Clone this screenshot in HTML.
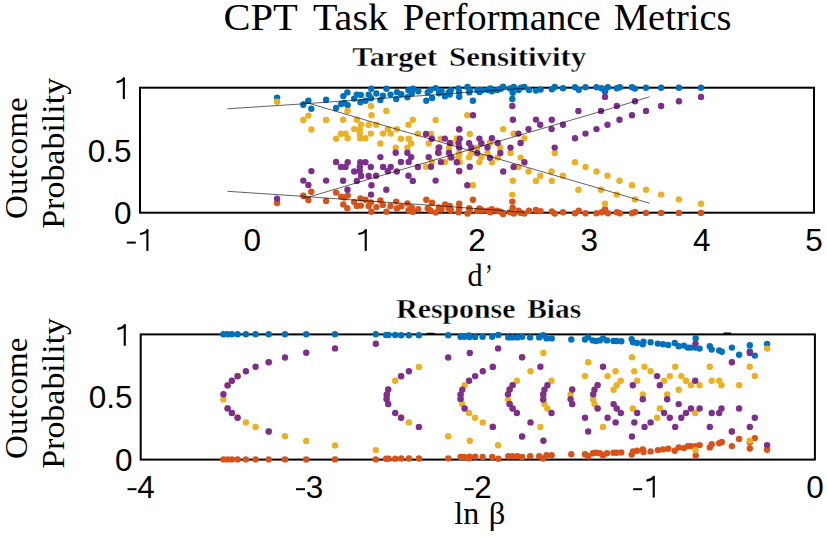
<!DOCTYPE html>
<html><head><meta charset="utf-8"><style>
html,body{margin:0;padding:0;background:#fff;width:827px;height:537px;overflow:hidden}
svg{display:block}
</style></head><body>
<svg width="827" height="537" viewBox="0 0 827 537">
<rect width="827" height="537" fill="#fff"/>
<rect x="140.0" y="87.7" width="674.0" height="125.0" fill="none" stroke="#000" stroke-width="2"/>
<rect x="140.7" y="334.4" width="674.2" height="125.2" fill="none" stroke="#000" stroke-width="2"/>
<g font-family='"Liberation Sans", sans-serif' font-size="31.5" fill="#000">
<rect x="126.80" y="241.60" width="9" height="2"/>
<rect x="146.35" y="229.20" width="2.1" height="21.7"/><path d="M148.00,230.10 Q144.80,233.60 140.10,234.00" fill="none" stroke="#000" stroke-width="2.1"/>
<text x="252.33" y="250.9" text-anchor="middle">0</text>
<rect x="364.67" y="229.20" width="2.1" height="21.7"/><path d="M366.32,230.10 Q363.12,233.60 358.42,234.00" fill="none" stroke="#000" stroke-width="2.1"/>
<text x="477.00" y="250.9" text-anchor="middle">2</text>
<text x="589.33" y="250.9" text-anchor="middle">3</text>
<text x="701.67" y="250.9" text-anchor="middle">4</text>
<text x="814.00" y="250.9" text-anchor="middle">5</text>
<text x="131.6" y="224.1" text-anchor="end">0</text>
<text x="131.6" y="161.6" text-anchor="end">0.5</text>
<rect x="122.80" y="77.40" width="2.1" height="21.7"/><path d="M124.45,78.30 Q121.25,81.80 116.55,82.20" fill="none" stroke="#000" stroke-width="2.1"/>
<rect x="127.50" y="488.20" width="9" height="2"/>
<text x="145.95" y="497.5" text-anchor="middle">4</text>
<rect x="296.05" y="488.20" width="9" height="2"/>
<text x="314.50" y="497.5" text-anchor="middle">3</text>
<rect x="464.60" y="488.20" width="9" height="2"/>
<text x="483.05" y="497.5" text-anchor="middle">2</text>
<rect x="633.15" y="488.20" width="9" height="2"/>
<rect x="652.70" y="475.80" width="2.1" height="21.7"/><path d="M654.35,476.70 Q651.15,480.20 646.45,480.60" fill="none" stroke="#000" stroke-width="2.1"/>
<text x="814.90" y="497.5" text-anchor="middle">0</text>
<text x="132.5" y="471.0" text-anchor="end">0</text>
<text x="132.5" y="408.4" text-anchor="end">0.5</text>
<rect x="123.70" y="324.10" width="2.1" height="21.7"/><path d="M125.35,325.00 Q122.15,328.50 117.45,328.90" fill="none" stroke="#000" stroke-width="2.1"/>
</g>
<g fill="#0072BD">
<circle cx="277.1" cy="97.6" r="3.2"/>
<circle cx="303.3" cy="104.8" r="3.2"/>
<circle cx="308.4" cy="100.6" r="3.2"/>
<circle cx="311.3" cy="108.8" r="3.2"/>
<circle cx="326.1" cy="99.7" r="3.2"/>
<circle cx="336.1" cy="108.0" r="3.2"/>
<circle cx="341.2" cy="104.0" r="3.2"/>
<circle cx="343.3" cy="96.1" r="3.2"/>
<circle cx="344.4" cy="103.0" r="3.2"/>
<circle cx="347.3" cy="92.4" r="3.2"/>
<circle cx="347.7" cy="105.1" r="3.2"/>
<circle cx="354.2" cy="98.6" r="3.2"/>
<circle cx="356.8" cy="94.6" r="3.2"/>
<circle cx="360.8" cy="95.0" r="3.2"/>
<circle cx="360.4" cy="102.2" r="3.2"/>
<circle cx="365.5" cy="100.8" r="3.2"/>
<circle cx="368.7" cy="94.6" r="3.2"/>
<circle cx="371.3" cy="88.8" r="3.2"/>
<circle cx="370.9" cy="98.2" r="3.2"/>
<circle cx="376.4" cy="93.5" r="3.2"/>
<circle cx="380.4" cy="100.1" r="3.2"/>
<circle cx="382.9" cy="95.7" r="3.2"/>
<circle cx="386.5" cy="88.8" r="3.2"/>
<circle cx="390.5" cy="94.6" r="3.2"/>
<circle cx="396.2" cy="99.0" r="3.2"/>
<circle cx="396.9" cy="92.1" r="3.2"/>
<circle cx="401.2" cy="94.2" r="3.2"/>
<circle cx="407.4" cy="97.2" r="3.2"/>
<circle cx="408.5" cy="90.3" r="3.2"/>
<circle cx="411.8" cy="93.2" r="3.2"/>
<circle cx="412.9" cy="88.8" r="3.2"/>
<circle cx="418.3" cy="91.3" r="3.2"/>
<circle cx="426.3" cy="100.8" r="3.2"/>
<circle cx="427.7" cy="92.4" r="3.2"/>
<circle cx="430.3" cy="90.3" r="3.2"/>
<circle cx="432.1" cy="97.9" r="3.2"/>
<circle cx="435.7" cy="88.1" r="3.2"/>
<circle cx="439.0" cy="93.2" r="3.2"/>
<circle cx="441.5" cy="91.0" r="3.2"/>
<circle cx="445.0" cy="96.2" r="3.2"/>
<circle cx="448.6" cy="92.4" r="3.2"/>
<circle cx="450.8" cy="90.3" r="3.2"/>
<circle cx="449.7" cy="94.6" r="3.2"/>
<circle cx="458.4" cy="88.4" r="3.2"/>
<circle cx="459.2" cy="92.1" r="3.2"/>
<circle cx="459.2" cy="96.8" r="3.2"/>
<circle cx="467.5" cy="87.0" r="3.2"/>
<circle cx="469.7" cy="90.3" r="3.2"/>
<circle cx="469.3" cy="92.4" r="3.2"/>
<circle cx="472.9" cy="100.8" r="3.2"/>
<circle cx="477.3" cy="89.9" r="3.2"/>
<circle cx="479.5" cy="92.1" r="3.2"/>
<circle cx="482.0" cy="90.3" r="3.2"/>
<circle cx="487.8" cy="89.9" r="3.2"/>
<circle cx="490.4" cy="88.4" r="3.2"/>
<circle cx="491.8" cy="91.3" r="3.2"/>
<circle cx="497.2" cy="89.9" r="3.2"/>
<circle cx="500.7" cy="88.8" r="3.2"/>
<circle cx="503.1" cy="86.6" r="3.2"/>
<circle cx="510.2" cy="88.4" r="3.2"/>
<circle cx="513.8" cy="87.0" r="3.2"/>
<circle cx="512.7" cy="92.8" r="3.2"/>
<circle cx="512.3" cy="99.0" r="3.2"/>
<circle cx="518.5" cy="89.9" r="3.2"/>
<circle cx="521.0" cy="87.7" r="3.2"/>
<circle cx="524.3" cy="87.0" r="3.2"/>
<circle cx="529.0" cy="89.9" r="3.2"/>
<circle cx="535.9" cy="90.6" r="3.2"/>
<circle cx="540.6" cy="89.5" r="3.2"/>
<circle cx="551.9" cy="89.2" r="3.2"/>
<circle cx="554.8" cy="87.0" r="3.2"/>
<circle cx="563.0" cy="88.3" r="3.2"/>
<circle cx="575.0" cy="87.3" r="3.2"/>
<circle cx="578.8" cy="89.8" r="3.2"/>
<circle cx="585.5" cy="87.3" r="3.2"/>
<circle cx="596.5" cy="87.3" r="3.2"/>
<circle cx="601.6" cy="88.3" r="3.2"/>
<circle cx="605.0" cy="91.4" r="3.2"/>
<circle cx="607.9" cy="87.3" r="3.2"/>
<circle cx="616.8" cy="88.3" r="3.2"/>
<circle cx="619.9" cy="87.3" r="3.2"/>
<circle cx="632.0" cy="87.3" r="3.2"/>
<circle cx="635.0" cy="88.6" r="3.2"/>
<circle cx="646.0" cy="87.7" r="3.2"/>
<circle cx="661.1" cy="87.7" r="3.2"/>
<circle cx="678.9" cy="87.7" r="3.2"/>
<circle cx="701.0" cy="87.7" r="3.2"/>
</g>
<g fill="#D95319">
<circle cx="277.1" cy="203.0" r="3.2"/>
<circle cx="303.3" cy="195.8" r="3.2"/>
<circle cx="308.4" cy="200.0" r="3.2"/>
<circle cx="311.3" cy="191.8" r="3.2"/>
<circle cx="326.1" cy="200.9" r="3.2"/>
<circle cx="336.1" cy="192.6" r="3.2"/>
<circle cx="341.2" cy="196.6" r="3.2"/>
<circle cx="343.3" cy="204.5" r="3.2"/>
<circle cx="344.4" cy="197.6" r="3.2"/>
<circle cx="347.3" cy="208.2" r="3.2"/>
<circle cx="347.7" cy="195.5" r="3.2"/>
<circle cx="354.2" cy="202.0" r="3.2"/>
<circle cx="356.8" cy="206.0" r="3.2"/>
<circle cx="360.8" cy="205.6" r="3.2"/>
<circle cx="360.4" cy="198.4" r="3.2"/>
<circle cx="365.5" cy="199.8" r="3.2"/>
<circle cx="368.7" cy="206.0" r="3.2"/>
<circle cx="371.3" cy="211.8" r="3.2"/>
<circle cx="370.9" cy="202.4" r="3.2"/>
<circle cx="376.4" cy="207.1" r="3.2"/>
<circle cx="380.4" cy="200.5" r="3.2"/>
<circle cx="382.9" cy="204.9" r="3.2"/>
<circle cx="386.5" cy="211.8" r="3.2"/>
<circle cx="390.5" cy="206.0" r="3.2"/>
<circle cx="396.2" cy="201.6" r="3.2"/>
<circle cx="396.9" cy="208.5" r="3.2"/>
<circle cx="401.2" cy="206.4" r="3.2"/>
<circle cx="407.4" cy="203.4" r="3.2"/>
<circle cx="408.5" cy="210.3" r="3.2"/>
<circle cx="411.8" cy="207.4" r="3.2"/>
<circle cx="412.9" cy="211.8" r="3.2"/>
<circle cx="418.3" cy="209.3" r="3.2"/>
<circle cx="426.3" cy="199.8" r="3.2"/>
<circle cx="427.7" cy="208.2" r="3.2"/>
<circle cx="430.3" cy="210.3" r="3.2"/>
<circle cx="432.1" cy="202.7" r="3.2"/>
<circle cx="435.7" cy="212.5" r="3.2"/>
<circle cx="439.0" cy="207.4" r="3.2"/>
<circle cx="441.5" cy="209.6" r="3.2"/>
<circle cx="445.0" cy="204.4" r="3.2"/>
<circle cx="448.6" cy="208.2" r="3.2"/>
<circle cx="450.8" cy="210.3" r="3.2"/>
<circle cx="449.7" cy="206.0" r="3.2"/>
<circle cx="458.4" cy="212.2" r="3.2"/>
<circle cx="459.2" cy="208.5" r="3.2"/>
<circle cx="459.2" cy="203.8" r="3.2"/>
<circle cx="467.5" cy="213.6" r="3.2"/>
<circle cx="469.7" cy="210.3" r="3.2"/>
<circle cx="469.3" cy="208.2" r="3.2"/>
<circle cx="472.9" cy="199.8" r="3.2"/>
<circle cx="477.3" cy="210.7" r="3.2"/>
<circle cx="479.5" cy="208.5" r="3.2"/>
<circle cx="482.0" cy="210.3" r="3.2"/>
<circle cx="487.8" cy="210.7" r="3.2"/>
<circle cx="490.4" cy="212.2" r="3.2"/>
<circle cx="491.8" cy="209.3" r="3.2"/>
<circle cx="497.2" cy="210.7" r="3.2"/>
<circle cx="500.7" cy="211.8" r="3.2"/>
<circle cx="503.1" cy="214.0" r="3.2"/>
<circle cx="510.2" cy="212.2" r="3.2"/>
<circle cx="513.8" cy="213.6" r="3.2"/>
<circle cx="512.7" cy="207.8" r="3.2"/>
<circle cx="512.3" cy="201.6" r="3.2"/>
<circle cx="518.5" cy="210.7" r="3.2"/>
<circle cx="521.0" cy="212.9" r="3.2"/>
<circle cx="524.3" cy="213.6" r="3.2"/>
<circle cx="529.0" cy="210.7" r="3.2"/>
<circle cx="535.9" cy="210.0" r="3.2"/>
<circle cx="540.6" cy="211.1" r="3.2"/>
<circle cx="551.9" cy="211.4" r="3.2"/>
<circle cx="554.8" cy="213.6" r="3.2"/>
<circle cx="563.0" cy="212.3" r="3.2"/>
<circle cx="575.0" cy="213.3" r="3.2"/>
<circle cx="578.8" cy="210.8" r="3.2"/>
<circle cx="585.5" cy="213.3" r="3.2"/>
<circle cx="596.5" cy="213.3" r="3.2"/>
<circle cx="601.6" cy="212.3" r="3.2"/>
<circle cx="605.0" cy="209.2" r="3.2"/>
<circle cx="607.9" cy="213.3" r="3.2"/>
<circle cx="616.8" cy="212.3" r="3.2"/>
<circle cx="619.9" cy="213.3" r="3.2"/>
<circle cx="632.0" cy="213.3" r="3.2"/>
<circle cx="635.0" cy="212.0" r="3.2"/>
<circle cx="646.0" cy="212.9" r="3.2"/>
<circle cx="661.1" cy="212.9" r="3.2"/>
<circle cx="678.9" cy="212.9" r="3.2"/>
<circle cx="701.0" cy="212.9" r="3.2"/>
</g>
<g fill="#EDB120">
<circle cx="277.1" cy="101.8" r="3.2"/>
<circle cx="303.3" cy="120.0" r="3.2"/>
<circle cx="308.4" cy="115.6" r="3.2"/>
<circle cx="311.4" cy="129.5" r="3.2"/>
<circle cx="326.1" cy="120.0" r="3.2"/>
<circle cx="336.1" cy="138.7" r="3.2"/>
<circle cx="341.0" cy="133.7" r="3.2"/>
<circle cx="343.1" cy="119.8" r="3.2"/>
<circle cx="345.5" cy="133.7" r="3.2"/>
<circle cx="347.5" cy="110.9" r="3.2"/>
<circle cx="347.7" cy="138.3" r="3.2"/>
<circle cx="354.2" cy="129.1" r="3.2"/>
<circle cx="356.8" cy="119.7" r="3.2"/>
<circle cx="359.8" cy="129.6" r="3.2"/>
<circle cx="359.8" cy="133.8" r="3.2"/>
<circle cx="360.3" cy="138.3" r="3.2"/>
<circle cx="361.1" cy="124.6" r="3.2"/>
<circle cx="365.4" cy="138.3" r="3.2"/>
<circle cx="368.7" cy="124.7" r="3.2"/>
<circle cx="370.8" cy="133.6" r="3.2"/>
<circle cx="371.0" cy="106.0" r="3.2"/>
<circle cx="371.5" cy="115.3" r="3.2"/>
<circle cx="376.1" cy="124.8" r="3.2"/>
<circle cx="380.4" cy="143.5" r="3.2"/>
<circle cx="383.1" cy="133.6" r="3.2"/>
<circle cx="386.3" cy="110.9" r="3.2"/>
<circle cx="387.8" cy="129.3" r="3.2"/>
<circle cx="390.7" cy="133.6" r="3.2"/>
<circle cx="395.7" cy="147.8" r="3.2"/>
<circle cx="396.8" cy="129.1" r="3.2"/>
<circle cx="400.9" cy="138.7" r="3.2"/>
<circle cx="407.4" cy="147.8" r="3.2"/>
<circle cx="408.5" cy="124.8" r="3.2"/>
<circle cx="408.7" cy="138.7" r="3.2"/>
<circle cx="411.2" cy="143.5" r="3.2"/>
<circle cx="412.8" cy="119.7" r="3.2"/>
<circle cx="417.9" cy="133.6" r="3.2"/>
<circle cx="428.7" cy="143.5" r="3.2"/>
<circle cx="431.0" cy="133.9" r="3.2"/>
<circle cx="435.6" cy="120.1" r="3.2"/>
<circle cx="438.1" cy="147.9" r="3.2"/>
<circle cx="440.9" cy="138.6" r="3.2"/>
<circle cx="449.0" cy="147.9" r="3.2"/>
<circle cx="451.4" cy="143.2" r="3.2"/>
<circle cx="456.8" cy="138.4" r="3.2"/>
<circle cx="467.3" cy="115.3" r="3.2"/>
<circle cx="469.8" cy="133.9" r="3.2"/>
<circle cx="477.2" cy="147.7" r="3.2"/>
<circle cx="489.9" cy="142.8" r="3.2"/>
<circle cx="500.3" cy="147.6" r="3.2"/>
<circle cx="503.2" cy="129.1" r="3.2"/>
<circle cx="513.6" cy="133.6" r="3.2"/>
<circle cx="524.4" cy="138.3" r="3.2"/>
<circle cx="426.0" cy="166.7" r="3.2"/>
<circle cx="431.8" cy="161.9" r="3.2"/>
<circle cx="439.2" cy="153.2" r="3.2"/>
<circle cx="444.8" cy="162.1" r="3.2"/>
<circle cx="449.8" cy="157.6" r="3.2"/>
<circle cx="458.5" cy="157.3" r="3.2"/>
<circle cx="459.2" cy="171.4" r="3.2"/>
<circle cx="459.8" cy="162.1" r="3.2"/>
<circle cx="459.2" cy="153.2" r="3.2"/>
<circle cx="469.1" cy="157.3" r="3.2"/>
<circle cx="471.3" cy="153.2" r="3.2"/>
<circle cx="473.0" cy="185.3" r="3.2"/>
<circle cx="479.4" cy="162.1" r="3.2"/>
<circle cx="481.4" cy="157.3" r="3.2"/>
<circle cx="487.5" cy="153.1" r="3.2"/>
<circle cx="491.9" cy="162.4" r="3.2"/>
<circle cx="497.7" cy="157.6" r="3.2"/>
<circle cx="510.5" cy="153.0" r="3.2"/>
<circle cx="512.3" cy="194.6" r="3.2"/>
<circle cx="512.9" cy="180.8" r="3.2"/>
<circle cx="518.5" cy="167.0" r="3.2"/>
<circle cx="520.6" cy="157.6" r="3.2"/>
<circle cx="528.5" cy="171.5" r="3.2"/>
<circle cx="536.0" cy="181.0" r="3.2"/>
<circle cx="540.2" cy="175.8" r="3.2"/>
<circle cx="551.8" cy="180.9" r="3.2"/>
<circle cx="551.6" cy="171.5" r="3.2"/>
<circle cx="554.7" cy="153.0" r="3.2"/>
<circle cx="563.0" cy="175.8" r="3.2"/>
<circle cx="575.0" cy="162.3" r="3.2"/>
<circle cx="578.4" cy="189.7" r="3.2"/>
<circle cx="585.5" cy="167.0" r="3.2"/>
<circle cx="596.5" cy="171.5" r="3.2"/>
<circle cx="601.0" cy="189.7" r="3.2"/>
<circle cx="605.0" cy="203.7" r="3.2"/>
<circle cx="607.5" cy="175.8" r="3.2"/>
<circle cx="616.8" cy="194.6" r="3.2"/>
<circle cx="619.5" cy="180.8" r="3.2"/>
<circle cx="632.0" cy="185.3" r="3.2"/>
<circle cx="635.0" cy="199.4" r="3.2"/>
<circle cx="646.0" cy="189.7" r="3.2"/>
<circle cx="661.1" cy="194.6" r="3.2"/>
<circle cx="678.9" cy="199.4" r="3.2"/>
<circle cx="701.0" cy="203.7" r="3.2"/>
<circle cx="459.2" cy="129.6" r="3.2"/>
</g>
<g fill="#7E2F8E">
<circle cx="277.1" cy="198.8" r="3.2"/>
<circle cx="303.3" cy="180.6" r="3.2"/>
<circle cx="308.4" cy="185.0" r="3.2"/>
<circle cx="311.4" cy="171.1" r="3.2"/>
<circle cx="326.1" cy="180.6" r="3.2"/>
<circle cx="336.1" cy="161.9" r="3.2"/>
<circle cx="341.0" cy="166.9" r="3.2"/>
<circle cx="343.1" cy="180.8" r="3.2"/>
<circle cx="345.5" cy="166.9" r="3.2"/>
<circle cx="347.5" cy="189.7" r="3.2"/>
<circle cx="347.7" cy="162.3" r="3.2"/>
<circle cx="354.2" cy="171.5" r="3.2"/>
<circle cx="356.8" cy="180.9" r="3.2"/>
<circle cx="359.8" cy="171.0" r="3.2"/>
<circle cx="359.8" cy="166.8" r="3.2"/>
<circle cx="360.3" cy="162.3" r="3.2"/>
<circle cx="361.1" cy="176.0" r="3.2"/>
<circle cx="365.4" cy="162.3" r="3.2"/>
<circle cx="368.7" cy="175.9" r="3.2"/>
<circle cx="370.8" cy="167.0" r="3.2"/>
<circle cx="371.0" cy="194.6" r="3.2"/>
<circle cx="371.5" cy="185.3" r="3.2"/>
<circle cx="376.1" cy="175.8" r="3.2"/>
<circle cx="380.4" cy="157.1" r="3.2"/>
<circle cx="383.1" cy="167.0" r="3.2"/>
<circle cx="386.3" cy="189.7" r="3.2"/>
<circle cx="387.8" cy="171.3" r="3.2"/>
<circle cx="390.7" cy="167.0" r="3.2"/>
<circle cx="395.7" cy="152.8" r="3.2"/>
<circle cx="396.8" cy="171.5" r="3.2"/>
<circle cx="400.9" cy="161.9" r="3.2"/>
<circle cx="407.4" cy="152.8" r="3.2"/>
<circle cx="408.5" cy="175.8" r="3.2"/>
<circle cx="408.7" cy="161.9" r="3.2"/>
<circle cx="411.2" cy="157.1" r="3.2"/>
<circle cx="412.8" cy="180.9" r="3.2"/>
<circle cx="417.9" cy="167.0" r="3.2"/>
<circle cx="428.7" cy="157.1" r="3.2"/>
<circle cx="431.0" cy="166.7" r="3.2"/>
<circle cx="435.6" cy="180.6" r="3.2"/>
<circle cx="438.1" cy="152.8" r="3.2"/>
<circle cx="440.9" cy="162.1" r="3.2"/>
<circle cx="449.0" cy="152.8" r="3.2"/>
<circle cx="451.4" cy="157.4" r="3.2"/>
<circle cx="456.8" cy="162.2" r="3.2"/>
<circle cx="467.3" cy="185.3" r="3.2"/>
<circle cx="469.8" cy="166.7" r="3.2"/>
<circle cx="477.2" cy="153.0" r="3.2"/>
<circle cx="489.9" cy="157.8" r="3.2"/>
<circle cx="500.3" cy="153.0" r="3.2"/>
<circle cx="503.2" cy="171.5" r="3.2"/>
<circle cx="513.6" cy="167.0" r="3.2"/>
<circle cx="524.4" cy="162.3" r="3.2"/>
<circle cx="426.0" cy="133.9" r="3.2"/>
<circle cx="431.8" cy="138.7" r="3.2"/>
<circle cx="439.2" cy="147.4" r="3.2"/>
<circle cx="444.8" cy="138.6" r="3.2"/>
<circle cx="449.8" cy="143.0" r="3.2"/>
<circle cx="458.5" cy="143.3" r="3.2"/>
<circle cx="459.2" cy="129.2" r="3.2"/>
<circle cx="459.8" cy="138.6" r="3.2"/>
<circle cx="459.2" cy="147.4" r="3.2"/>
<circle cx="469.1" cy="143.3" r="3.2"/>
<circle cx="471.3" cy="147.4" r="3.2"/>
<circle cx="473.0" cy="115.3" r="3.2"/>
<circle cx="479.4" cy="138.6" r="3.2"/>
<circle cx="481.4" cy="143.3" r="3.2"/>
<circle cx="487.5" cy="147.5" r="3.2"/>
<circle cx="491.9" cy="138.2" r="3.2"/>
<circle cx="497.7" cy="143.0" r="3.2"/>
<circle cx="510.5" cy="147.6" r="3.2"/>
<circle cx="512.3" cy="106.0" r="3.2"/>
<circle cx="512.9" cy="119.8" r="3.2"/>
<circle cx="518.5" cy="133.6" r="3.2"/>
<circle cx="520.6" cy="143.0" r="3.2"/>
<circle cx="528.5" cy="129.1" r="3.2"/>
<circle cx="536.0" cy="119.6" r="3.2"/>
<circle cx="540.2" cy="124.8" r="3.2"/>
<circle cx="551.8" cy="119.7" r="3.2"/>
<circle cx="551.6" cy="129.1" r="3.2"/>
<circle cx="554.7" cy="147.6" r="3.2"/>
<circle cx="563.0" cy="124.8" r="3.2"/>
<circle cx="575.0" cy="138.3" r="3.2"/>
<circle cx="578.4" cy="110.9" r="3.2"/>
<circle cx="585.5" cy="133.6" r="3.2"/>
<circle cx="596.5" cy="129.1" r="3.2"/>
<circle cx="601.0" cy="110.9" r="3.2"/>
<circle cx="605.0" cy="96.9" r="3.2"/>
<circle cx="607.5" cy="124.8" r="3.2"/>
<circle cx="616.8" cy="106.0" r="3.2"/>
<circle cx="619.5" cy="119.8" r="3.2"/>
<circle cx="632.0" cy="115.3" r="3.2"/>
<circle cx="635.0" cy="101.2" r="3.2"/>
<circle cx="646.0" cy="110.9" r="3.2"/>
<circle cx="661.1" cy="106.0" r="3.2"/>
<circle cx="678.9" cy="101.2" r="3.2"/>
<circle cx="701.0" cy="96.9" r="3.2"/>
<circle cx="459.2" cy="171.0" r="3.2"/>
</g>
<g fill="none" stroke="#000" stroke-width="1" stroke-opacity="0.62">
<polyline points="227.4,108.8 302.5,103.9 335,101.6 436,94.7 525,88.2"/>
<polyline points="227.4,191.3 302.5,196.3 335,198.7 436,205.6 525,212.3"/>
<polyline points="302.5,101.4 340,112.5 380,124.35 620,194.45 649.7,203.3"/>
<polyline points="302.5,198.9 340,187.8 380,175.95 620,105.85 649.7,96.8"/>
</g>
<g fill="#000"><rect x="426.5" y="332.8" width="8.2" height="1.8" rx="0.8"/><rect x="723.3" y="332.4" width="8" height="1.8" rx="0.8"/></g>
<g fill="#0072BD">
<circle cx="223.4" cy="334.3" r="3.2"/>
<circle cx="227.6" cy="334.3" r="3.2"/>
<circle cx="231.9" cy="334.3" r="3.2"/>
<circle cx="237.6" cy="334.3" r="3.2"/>
<circle cx="245.9" cy="334.3" r="3.2"/>
<circle cx="255.6" cy="334.3" r="3.2"/>
<circle cx="268.7" cy="334.3" r="3.2"/>
<circle cx="285.0" cy="334.3" r="3.2"/>
<circle cx="306.2" cy="334.3" r="3.2"/>
<circle cx="335.0" cy="334.3" r="3.2"/>
<circle cx="375.8" cy="334.3" r="3.2"/>
<circle cx="386.1" cy="335.0" r="3.2"/>
<circle cx="388.4" cy="335.0" r="3.2"/>
<circle cx="395.2" cy="335.0" r="3.2"/>
<circle cx="401.2" cy="335.2" r="3.2"/>
<circle cx="408.9" cy="335.2" r="3.2"/>
<circle cx="418.9" cy="335.2" r="3.2"/>
<circle cx="448.2" cy="335.3" r="3.2"/>
<circle cx="460.6" cy="336.7" r="3.2"/>
<circle cx="464.2" cy="336.7" r="3.2"/>
<circle cx="469.0" cy="335.5" r="3.2"/>
<circle cx="469.6" cy="337.1" r="3.2"/>
<circle cx="475.1" cy="337.1" r="3.2"/>
<circle cx="482.6" cy="336.7" r="3.2"/>
<circle cx="492.2" cy="336.7" r="3.2"/>
<circle cx="498.3" cy="335.0" r="3.2"/>
<circle cx="508.3" cy="337.4" r="3.2"/>
<circle cx="512.6" cy="337.4" r="3.2"/>
<circle cx="517.4" cy="337.4" r="3.2"/>
<circle cx="522.2" cy="336.7" r="3.2"/>
<circle cx="530.1" cy="337.4" r="3.2"/>
<circle cx="539.2" cy="337.4" r="3.2"/>
<circle cx="543.2" cy="335.2" r="3.2"/>
<circle cx="546.5" cy="338.4" r="3.2"/>
<circle cx="551.7" cy="338.4" r="3.2"/>
<circle cx="571.3" cy="339.5" r="3.2"/>
<circle cx="585.0" cy="339.5" r="3.2"/>
<circle cx="588.2" cy="337.4" r="3.2"/>
<circle cx="592.8" cy="340.4" r="3.2"/>
<circle cx="595.9" cy="341.0" r="3.2"/>
<circle cx="599.8" cy="340.4" r="3.2"/>
<circle cx="603.0" cy="338.4" r="3.2"/>
<circle cx="607.0" cy="340.4" r="3.2"/>
<circle cx="613.5" cy="341.0" r="3.2"/>
<circle cx="616.7" cy="341.0" r="3.2"/>
<circle cx="621.3" cy="341.3" r="3.2"/>
<circle cx="631.7" cy="339.1" r="3.2"/>
<circle cx="633.0" cy="342.3" r="3.2"/>
<circle cx="637.0" cy="343.0" r="3.2"/>
<circle cx="643.5" cy="341.7" r="3.2"/>
<circle cx="642.8" cy="344.3" r="3.2"/>
<circle cx="650.6" cy="342.3" r="3.2"/>
<circle cx="657.8" cy="343.6" r="3.2"/>
<circle cx="663.0" cy="344.3" r="3.2"/>
<circle cx="668.2" cy="345.0" r="3.2"/>
<circle cx="674.7" cy="343.0" r="3.2"/>
<circle cx="678.7" cy="346.3" r="3.2"/>
<circle cx="683.9" cy="345.6" r="3.2"/>
<circle cx="687.8" cy="347.6" r="3.2"/>
<circle cx="690.9" cy="347.6" r="3.2"/>
<circle cx="695.4" cy="347.6" r="3.2"/>
<circle cx="699.6" cy="348.6" r="3.2"/>
<circle cx="695.7" cy="338.2" r="3.2"/>
<circle cx="709.8" cy="346.3" r="3.2"/>
<circle cx="711.7" cy="349.5" r="3.2"/>
<circle cx="719.2" cy="350.4" r="3.2"/>
<circle cx="721.8" cy="351.7" r="3.2"/>
<circle cx="731.9" cy="347.6" r="3.2"/>
<circle cx="739.1" cy="354.7" r="3.2"/>
<circle cx="749.8" cy="345.2" r="3.2"/>
<circle cx="749.8" cy="351.5" r="3.2"/>
<circle cx="754.8" cy="355.6" r="3.2"/>
<circle cx="767.1" cy="343.9" r="3.2"/>
</g>
<g fill="#D95319">
<circle cx="223.4" cy="459.4" r="3.2"/>
<circle cx="227.6" cy="459.4" r="3.2"/>
<circle cx="231.9" cy="459.4" r="3.2"/>
<circle cx="237.6" cy="459.4" r="3.2"/>
<circle cx="245.9" cy="459.4" r="3.2"/>
<circle cx="255.6" cy="459.4" r="3.2"/>
<circle cx="268.7" cy="459.4" r="3.2"/>
<circle cx="285.0" cy="459.4" r="3.2"/>
<circle cx="306.2" cy="459.4" r="3.2"/>
<circle cx="335.0" cy="459.4" r="3.2"/>
<circle cx="375.8" cy="459.4" r="3.2"/>
<circle cx="386.1" cy="458.7" r="3.2"/>
<circle cx="388.4" cy="458.7" r="3.2"/>
<circle cx="395.2" cy="458.7" r="3.2"/>
<circle cx="401.2" cy="458.5" r="3.2"/>
<circle cx="408.9" cy="458.5" r="3.2"/>
<circle cx="418.9" cy="458.5" r="3.2"/>
<circle cx="448.2" cy="458.4" r="3.2"/>
<circle cx="460.6" cy="457.0" r="3.2"/>
<circle cx="464.2" cy="457.0" r="3.2"/>
<circle cx="469.0" cy="458.2" r="3.2"/>
<circle cx="469.6" cy="456.6" r="3.2"/>
<circle cx="475.1" cy="456.6" r="3.2"/>
<circle cx="482.6" cy="457.0" r="3.2"/>
<circle cx="492.2" cy="457.0" r="3.2"/>
<circle cx="498.3" cy="458.7" r="3.2"/>
<circle cx="508.3" cy="456.3" r="3.2"/>
<circle cx="512.6" cy="456.3" r="3.2"/>
<circle cx="517.4" cy="456.3" r="3.2"/>
<circle cx="522.2" cy="457.0" r="3.2"/>
<circle cx="530.1" cy="456.3" r="3.2"/>
<circle cx="539.2" cy="456.3" r="3.2"/>
<circle cx="543.2" cy="458.5" r="3.2"/>
<circle cx="546.5" cy="455.3" r="3.2"/>
<circle cx="551.7" cy="455.3" r="3.2"/>
<circle cx="571.3" cy="454.2" r="3.2"/>
<circle cx="585.0" cy="454.2" r="3.2"/>
<circle cx="588.2" cy="456.3" r="3.2"/>
<circle cx="592.8" cy="453.3" r="3.2"/>
<circle cx="595.9" cy="452.7" r="3.2"/>
<circle cx="599.8" cy="453.3" r="3.2"/>
<circle cx="603.0" cy="455.3" r="3.2"/>
<circle cx="607.0" cy="453.3" r="3.2"/>
<circle cx="613.5" cy="452.7" r="3.2"/>
<circle cx="616.7" cy="452.7" r="3.2"/>
<circle cx="621.3" cy="452.4" r="3.2"/>
<circle cx="631.7" cy="454.6" r="3.2"/>
<circle cx="633.0" cy="451.4" r="3.2"/>
<circle cx="637.0" cy="450.7" r="3.2"/>
<circle cx="643.5" cy="452.0" r="3.2"/>
<circle cx="642.8" cy="449.4" r="3.2"/>
<circle cx="650.6" cy="451.4" r="3.2"/>
<circle cx="657.8" cy="450.1" r="3.2"/>
<circle cx="663.0" cy="449.4" r="3.2"/>
<circle cx="668.2" cy="448.7" r="3.2"/>
<circle cx="674.7" cy="450.7" r="3.2"/>
<circle cx="678.7" cy="447.4" r="3.2"/>
<circle cx="683.9" cy="448.1" r="3.2"/>
<circle cx="687.8" cy="446.1" r="3.2"/>
<circle cx="690.9" cy="446.1" r="3.2"/>
<circle cx="695.4" cy="446.1" r="3.2"/>
<circle cx="699.6" cy="445.1" r="3.2"/>
<circle cx="695.7" cy="455.5" r="3.2"/>
<circle cx="709.8" cy="447.4" r="3.2"/>
<circle cx="711.7" cy="444.2" r="3.2"/>
<circle cx="719.2" cy="443.3" r="3.2"/>
<circle cx="721.8" cy="442.0" r="3.2"/>
<circle cx="731.9" cy="446.1" r="3.2"/>
<circle cx="739.1" cy="439.0" r="3.2"/>
<circle cx="749.8" cy="448.5" r="3.2"/>
<circle cx="749.8" cy="442.2" r="3.2"/>
<circle cx="754.8" cy="438.1" r="3.2"/>
<circle cx="767.1" cy="449.8" r="3.2"/>
</g>
<g fill="#EDB120">
<circle cx="223.4" cy="399.4" r="3.2"/>
<circle cx="227.6" cy="408.3" r="3.2"/>
<circle cx="231.9" cy="412.9" r="3.2"/>
<circle cx="237.6" cy="417.5" r="3.2"/>
<circle cx="245.9" cy="422.4" r="3.2"/>
<circle cx="255.6" cy="426.9" r="3.2"/>
<circle cx="268.7" cy="431.5" r="3.2"/>
<circle cx="285.0" cy="436.2" r="3.2"/>
<circle cx="306.2" cy="440.9" r="3.2"/>
<circle cx="335.0" cy="445.4" r="3.2"/>
<circle cx="375.8" cy="450.1" r="3.2"/>
<circle cx="401.1" cy="417.5" r="3.2"/>
<circle cx="388.2" cy="404.2" r="3.2"/>
<circle cx="386.9" cy="399.2" r="3.2"/>
<circle cx="227.6" cy="385.3" r="3.2"/>
<circle cx="231.9" cy="380.7" r="3.2"/>
<circle cx="237.6" cy="375.9" r="3.2"/>
<circle cx="268.7" cy="362.2" r="3.2"/>
<circle cx="386.5" cy="394.8" r="3.2"/>
<circle cx="388.2" cy="389.8" r="3.2"/>
<circle cx="395.2" cy="380.8" r="3.2"/>
<circle cx="401.1" cy="375.9" r="3.2"/>
<circle cx="408.9" cy="422.4" r="3.2"/>
<circle cx="448.2" cy="436.2" r="3.2"/>
<circle cx="469.8" cy="440.8" r="3.2"/>
<circle cx="498.1" cy="445.3" r="3.2"/>
<circle cx="492.8" cy="426.8" r="3.2"/>
<circle cx="482.8" cy="422.4" r="3.2"/>
<circle cx="475.1" cy="417.7" r="3.2"/>
<circle cx="469.1" cy="413.0" r="3.2"/>
<circle cx="462.3" cy="404.1" r="3.2"/>
<circle cx="460.6" cy="399.2" r="3.2"/>
<circle cx="418.9" cy="366.9" r="3.2"/>
<circle cx="460.6" cy="394.8" r="3.2"/>
<circle cx="464.6" cy="385.2" r="3.2"/>
<circle cx="492.8" cy="366.8" r="3.2"/>
<circle cx="522.1" cy="436.4" r="3.2"/>
<circle cx="540.4" cy="426.9" r="3.2"/>
<circle cx="512.6" cy="408.6" r="3.2"/>
<circle cx="509.6" cy="404.2" r="3.2"/>
<circle cx="508.0" cy="399.4" r="3.2"/>
<circle cx="547.4" cy="408.5" r="3.2"/>
<circle cx="544.5" cy="404.1" r="3.2"/>
<circle cx="543.2" cy="399.2" r="3.2"/>
<circle cx="572.2" cy="404.2" r="3.2"/>
<circle cx="593.2" cy="399.5" r="3.2"/>
<circle cx="509.6" cy="389.8" r="3.2"/>
<circle cx="512.6" cy="385.3" r="3.2"/>
<circle cx="516.9" cy="380.8" r="3.2"/>
<circle cx="530.5" cy="371.3" r="3.2"/>
<circle cx="522.1" cy="357.2" r="3.2"/>
<circle cx="543.2" cy="394.1" r="3.2"/>
<circle cx="551.5" cy="380.8" r="3.2"/>
<circle cx="543.4" cy="353.0" r="3.2"/>
<circle cx="570.6" cy="394.7" r="3.2"/>
<circle cx="572.2" cy="389.8" r="3.2"/>
<circle cx="585.0" cy="376.1" r="3.2"/>
<circle cx="588.2" cy="362.2" r="3.2"/>
<circle cx="603.0" cy="426.9" r="3.2"/>
<circle cx="657.1" cy="417.7" r="3.2"/>
<circle cx="597.6" cy="408.6" r="3.2"/>
<circle cx="594.5" cy="404.0" r="3.2"/>
<circle cx="632.8" cy="408.5" r="3.2"/>
<circle cx="659.8" cy="408.5" r="3.2"/>
<circle cx="597.6" cy="385.3" r="3.2"/>
<circle cx="613.6" cy="389.7" r="3.2"/>
<circle cx="616.7" cy="385.2" r="3.2"/>
<circle cx="620.8" cy="380.8" r="3.2"/>
<circle cx="607.6" cy="376.1" r="3.2"/>
<circle cx="615.6" cy="371.3" r="3.2"/>
<circle cx="642.8" cy="394.5" r="3.2"/>
<circle cx="637.2" cy="380.8" r="3.2"/>
<circle cx="634.3" cy="371.3" r="3.2"/>
<circle cx="632.0" cy="357.2" r="3.2"/>
<circle cx="644.5" cy="366.8" r="3.2"/>
<circle cx="650.6" cy="371.3" r="3.2"/>
<circle cx="667.2" cy="394.5" r="3.2"/>
<circle cx="664.1" cy="380.8" r="3.2"/>
<circle cx="669.8" cy="376.1" r="3.2"/>
<circle cx="675.2" cy="366.8" r="3.2"/>
<circle cx="678.7" cy="389.7" r="3.2"/>
<circle cx="681.3" cy="376.1" r="3.2"/>
<circle cx="686.0" cy="380.8" r="3.2"/>
<circle cx="695.5" cy="450.2" r="3.2"/>
<circle cx="731.9" cy="431.5" r="3.2"/>
<circle cx="749.8" cy="440.8" r="3.2"/>
<circle cx="695.2" cy="413.0" r="3.2"/>
<circle cx="690.9" cy="385.2" r="3.2"/>
<circle cx="699.6" cy="385.2" r="3.2"/>
<circle cx="711.7" cy="380.8" r="3.2"/>
<circle cx="719.2" cy="380.8" r="3.2"/>
<circle cx="721.5" cy="385.2" r="3.2"/>
<circle cx="739.1" cy="385.2" r="3.2"/>
<circle cx="754.8" cy="376.0" r="3.2"/>
<circle cx="709.8" cy="366.8" r="3.2"/>
<circle cx="749.8" cy="366.8" r="3.2"/>
<circle cx="731.9" cy="362.2" r="3.2"/>
<circle cx="767.1" cy="348.6" r="3.2"/>
</g>
<g fill="#7E2F8E">
<circle cx="223.4" cy="394.3" r="3.2"/>
<circle cx="227.6" cy="385.4" r="3.2"/>
<circle cx="231.9" cy="380.8" r="3.2"/>
<circle cx="237.6" cy="376.2" r="3.2"/>
<circle cx="245.9" cy="371.3" r="3.2"/>
<circle cx="255.6" cy="366.8" r="3.2"/>
<circle cx="268.7" cy="362.2" r="3.2"/>
<circle cx="285.0" cy="357.5" r="3.2"/>
<circle cx="306.2" cy="352.8" r="3.2"/>
<circle cx="335.0" cy="348.4" r="3.2"/>
<circle cx="375.8" cy="343.7" r="3.2"/>
<circle cx="401.1" cy="376.2" r="3.2"/>
<circle cx="388.2" cy="389.5" r="3.2"/>
<circle cx="386.9" cy="394.5" r="3.2"/>
<circle cx="227.6" cy="408.4" r="3.2"/>
<circle cx="231.9" cy="413.0" r="3.2"/>
<circle cx="237.6" cy="417.8" r="3.2"/>
<circle cx="268.7" cy="431.5" r="3.2"/>
<circle cx="386.5" cy="398.9" r="3.2"/>
<circle cx="388.2" cy="403.9" r="3.2"/>
<circle cx="395.2" cy="413.0" r="3.2"/>
<circle cx="401.1" cy="417.8" r="3.2"/>
<circle cx="408.9" cy="371.3" r="3.2"/>
<circle cx="448.2" cy="357.5" r="3.2"/>
<circle cx="469.8" cy="353.0" r="3.2"/>
<circle cx="498.1" cy="348.4" r="3.2"/>
<circle cx="492.8" cy="366.9" r="3.2"/>
<circle cx="482.8" cy="371.3" r="3.2"/>
<circle cx="475.1" cy="376.1" r="3.2"/>
<circle cx="469.1" cy="380.8" r="3.2"/>
<circle cx="462.3" cy="389.7" r="3.2"/>
<circle cx="460.6" cy="394.5" r="3.2"/>
<circle cx="418.9" cy="426.9" r="3.2"/>
<circle cx="460.6" cy="398.9" r="3.2"/>
<circle cx="464.6" cy="408.5" r="3.2"/>
<circle cx="492.8" cy="426.9" r="3.2"/>
<circle cx="522.1" cy="357.3" r="3.2"/>
<circle cx="540.4" cy="366.8" r="3.2"/>
<circle cx="512.6" cy="385.1" r="3.2"/>
<circle cx="509.6" cy="389.5" r="3.2"/>
<circle cx="508.0" cy="394.3" r="3.2"/>
<circle cx="547.4" cy="385.2" r="3.2"/>
<circle cx="544.5" cy="389.7" r="3.2"/>
<circle cx="543.2" cy="394.5" r="3.2"/>
<circle cx="572.2" cy="389.5" r="3.2"/>
<circle cx="593.2" cy="394.2" r="3.2"/>
<circle cx="509.6" cy="403.9" r="3.2"/>
<circle cx="512.6" cy="408.4" r="3.2"/>
<circle cx="516.9" cy="413.0" r="3.2"/>
<circle cx="530.5" cy="422.4" r="3.2"/>
<circle cx="522.1" cy="436.5" r="3.2"/>
<circle cx="543.2" cy="399.6" r="3.2"/>
<circle cx="551.5" cy="413.0" r="3.2"/>
<circle cx="543.4" cy="440.8" r="3.2"/>
<circle cx="570.6" cy="399.1" r="3.2"/>
<circle cx="572.2" cy="403.9" r="3.2"/>
<circle cx="585.0" cy="417.7" r="3.2"/>
<circle cx="588.2" cy="431.5" r="3.2"/>
<circle cx="603.0" cy="366.8" r="3.2"/>
<circle cx="657.1" cy="376.1" r="3.2"/>
<circle cx="597.6" cy="385.1" r="3.2"/>
<circle cx="594.5" cy="389.7" r="3.2"/>
<circle cx="632.8" cy="385.2" r="3.2"/>
<circle cx="659.8" cy="385.2" r="3.2"/>
<circle cx="597.6" cy="408.4" r="3.2"/>
<circle cx="613.6" cy="404.1" r="3.2"/>
<circle cx="616.7" cy="408.5" r="3.2"/>
<circle cx="620.8" cy="413.0" r="3.2"/>
<circle cx="607.6" cy="417.7" r="3.2"/>
<circle cx="615.6" cy="422.4" r="3.2"/>
<circle cx="642.8" cy="399.2" r="3.2"/>
<circle cx="637.2" cy="413.0" r="3.2"/>
<circle cx="634.3" cy="422.4" r="3.2"/>
<circle cx="632.0" cy="436.5" r="3.2"/>
<circle cx="644.5" cy="426.9" r="3.2"/>
<circle cx="650.6" cy="422.4" r="3.2"/>
<circle cx="667.2" cy="399.2" r="3.2"/>
<circle cx="664.1" cy="413.0" r="3.2"/>
<circle cx="669.8" cy="417.7" r="3.2"/>
<circle cx="675.2" cy="426.9" r="3.2"/>
<circle cx="678.7" cy="404.1" r="3.2"/>
<circle cx="681.3" cy="417.7" r="3.2"/>
<circle cx="686.0" cy="413.0" r="3.2"/>
<circle cx="695.5" cy="343.6" r="3.2"/>
<circle cx="731.9" cy="362.2" r="3.2"/>
<circle cx="749.8" cy="353.0" r="3.2"/>
<circle cx="695.2" cy="380.8" r="3.2"/>
<circle cx="690.9" cy="408.5" r="3.2"/>
<circle cx="699.6" cy="408.5" r="3.2"/>
<circle cx="711.7" cy="413.0" r="3.2"/>
<circle cx="719.2" cy="413.0" r="3.2"/>
<circle cx="721.5" cy="408.5" r="3.2"/>
<circle cx="739.1" cy="408.5" r="3.2"/>
<circle cx="754.8" cy="417.8" r="3.2"/>
<circle cx="709.8" cy="426.9" r="3.2"/>
<circle cx="749.8" cy="426.9" r="3.2"/>
<circle cx="731.9" cy="431.5" r="3.2"/>
<circle cx="767.1" cy="445.1" r="3.2"/>
</g>
<g font-family='"Liberation Serif", serif' fill="#000">
<text x="223.43" y="30.0" font-size="37.8" font-weight="normal" textLength="74.25" lengthAdjust="spacingAndGlyphs">CPT</text>
<text x="312.90" y="30.0" font-size="37.8" font-weight="normal" textLength="75.23" lengthAdjust="spacingAndGlyphs">Task</text>
<text x="402.77" y="30.0" font-size="37.8" font-weight="normal" textLength="197.95" lengthAdjust="spacingAndGlyphs">Performance</text>
<text x="613.88" y="30.0" font-size="37.8" font-weight="normal" textLength="117.60" lengthAdjust="spacingAndGlyphs">Metrics</text>
<text x="352.30" y="65.9" font-size="27.6" font-weight="bold" textLength="84.77" lengthAdjust="spacingAndGlyphs" stroke="#fff" stroke-width="0.35">Target</text>
<text x="448.98" y="65.9" font-size="27.6" font-weight="bold" textLength="137.33" lengthAdjust="spacingAndGlyphs" stroke="#fff" stroke-width="0.35">Sensitivity</text>
<text x="396.20" y="317.8" font-size="27.6" font-weight="bold" textLength="119.24" lengthAdjust="spacingAndGlyphs" stroke="#fff" stroke-width="0.35">Response</text>
<text x="527.20" y="317.8" font-size="27.6" font-weight="bold" textLength="53.88" lengthAdjust="spacingAndGlyphs" stroke="#fff" stroke-width="0.35">Bias</text>
<text x="467.60" y="286.0" font-size="31.5" font-weight="normal" textLength="15.16" lengthAdjust="spacingAndGlyphs">d</text>
<text x="484.93" y="286.0" font-size="31.5" font-weight="normal" textLength="7.70" lengthAdjust="spacingAndGlyphs">’</text>
<text x="454.30" y="523.8" font-size="31.5" font-weight="normal" textLength="24.92" lengthAdjust="spacingAndGlyphs">ln</text>
<text x="488.76" y="523.8" font-size="31.5" font-weight="normal" textLength="16.60" lengthAdjust="spacingAndGlyphs">β</text>
<text transform="translate(26.6,218.94) rotate(-90)" x="0" y="0" font-size="32" font-weight="normal" textLength="121.64" lengthAdjust="spacingAndGlyphs">Outcome</text>
<text transform="translate(63.8,228.80) rotate(-90)" x="0" y="0" font-size="32" font-weight="normal" textLength="150.97" lengthAdjust="spacingAndGlyphs">Probability</text>
<text transform="translate(26.6,458.93) rotate(-90)" x="0" y="0" font-size="32" font-weight="normal" textLength="121.34" lengthAdjust="spacingAndGlyphs">Outcome</text>
<text transform="translate(63.8,468.80) rotate(-90)" x="0" y="0" font-size="32" font-weight="normal" textLength="150.87" lengthAdjust="spacingAndGlyphs">Probability</text>
</g>
</svg>
</body></html>
